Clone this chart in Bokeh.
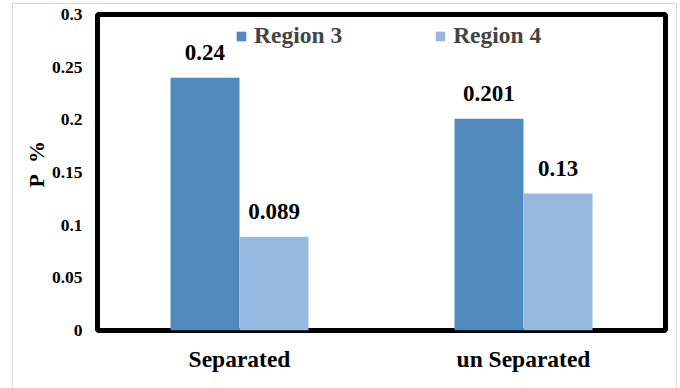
from bokeh.plotting import figure
from bokeh.models import (FactorRange, Range1d, FixedTicker, ColumnDataSource,
                          Spacer, Legend)
from bokeh.transform import dodge
from bokeh.layouts import column, row
from bokeh.core.properties import value
from bokeh.embed import file_html
from bokeh.resources import INLINE

categories = ["Separated", "un Separated"]
region3 = [0.24, 0.201]
region4 = [0.089, 0.13]
region3_labels = ["0.24", "0.201"]
region4_labels = ["0.089", "0.13"]
y_ticks = [0, 0.05, 0.1, 0.15, 0.2, 0.25, 0.3]
y_tick_labels = ["0", "0.05", "0.1", "0.15", "0.2", "0.25", "0.3"]

FONT = "Liberation Serif"
C3 = "#4F89BE"
C4 = "#98B9DF"

src = ColumnDataSource(dict(cat=categories, r3=region3, r4=region4,
                            l3=region3_labels, l4=region4_labels))

p = figure(width=663, height=384, x_range=FactorRange(*categories),
           y_range=Range1d(0, 0.3), output_backend="svg",
           toolbar_location=None, min_border_left=84, min_border_right=11,
           min_border_top=10, min_border_bottom=58)

bw = 0.243
r3 = p.vbar(x=dodge("cat", -bw / 2, range=p.x_range), top="r3", width=bw,
            source=src, fill_color=C3, line_color=None)
r4 = p.vbar(x=dodge("cat", bw / 2, range=p.x_range), top="r4", width=bw,
            source=src, fill_color=C4, line_color=None)

for col, off in (("l3", -bw / 2), ("l4", bw / 2)):
    ycol = "r3" if col == "l3" else "r4"
    p.text(x=dodge("cat", off, range=p.x_range), y=ycol, text=col, source=src,
           text_font=value(FONT), text_font_style="bold",
           text_font_size="23px", text_align="center",
           text_baseline="alphabetic", y_offset=-25, text_color="black")

legend = Legend(items=[("Region 3", [r3]), ("Region 4", [r4])],
                orientation="horizontal", location=(138, 281),
                border_line_color=None, background_fill_alpha=0,
                glyph_width=12, glyph_height=12, label_standoff=7,
                spacing=92, padding=0, margin=0,
                label_text_font=FONT, label_text_font_style="bold",
                label_text_font_size="23.5px", label_height=13)
p.add_layout(legend, "center")

p.xgrid.visible = False
p.ygrid.visible = False
p.outline_line_color = "black"
p.outline_line_width = 5

p.yaxis.ticker = FixedTicker(ticks=y_ticks)
p.yaxis.major_label_overrides = {t: l for t, l in zip(y_ticks, y_tick_labels)}
for ax in (p.xaxis[0], p.yaxis[0]):
    ax.axis_line_color = None
    ax.major_tick_line_color = None
    ax.minor_tick_line_color = None
    ax.major_label_text_font = FONT
    ax.major_label_text_font_style = "bold"
    ax.major_label_text_color = "black"
p.yaxis.major_label_text_font_size = "17.5px"
p.yaxis.major_label_standoff = 9
p.xaxis.major_label_text_font_size = "23.5px"
p.xaxis.major_label_standoff = 9
p.yaxis.axis_label = "\u00a0\u00a0\u00a0P\u00a0\u00a0%"
p.yaxis.axis_label_text_font = FONT
p.yaxis.axis_label_text_font_style = "bold"
p.yaxis.axis_label_text_font_size = "22px"
p.yaxis.axis_label_text_color = "black"
p.yaxis.axis_label_standoff = 0

p.styles = {"outline": "1px solid #d9d9d9"}

layout = column(Spacer(height=4), row(Spacer(width=13), p))
open("out.html", "w").write(file_html(layout, INLINE))
